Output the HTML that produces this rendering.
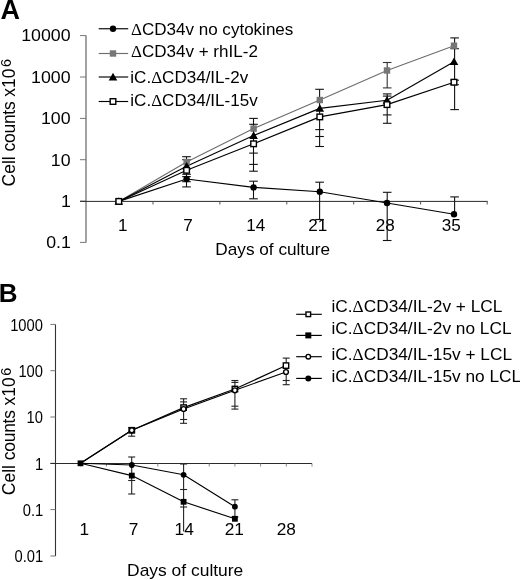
<!DOCTYPE html><html><head><meta charset="utf-8"><style>html,body{margin:0;padding:0;background:#fff;}svg{display:block;will-change:transform;}text{font-family:"Liberation Sans",sans-serif;}</style></head><body>
<svg width="520" height="580" viewBox="0 0 520 580">
<rect width="520" height="580" fill="#fff"/>
<text transform="translate(0.50,18.80) scale(1.0,1)" font-size="27" font-weight="bold" fill="#000">A</text>
<line x1="86.00" y1="35.60" x2="86.00" y2="242.40" stroke="#555" stroke-width="1.1"/>
<line x1="80.00" y1="35.60" x2="86.00" y2="35.60" stroke="#777" stroke-width="1.0"/>
<line x1="80.00" y1="77.00" x2="86.00" y2="77.00" stroke="#777" stroke-width="1.0"/>
<line x1="80.00" y1="118.40" x2="86.00" y2="118.40" stroke="#777" stroke-width="1.0"/>
<line x1="80.00" y1="159.70" x2="86.00" y2="159.70" stroke="#777" stroke-width="1.0"/>
<line x1="80.00" y1="201.10" x2="86.00" y2="201.10" stroke="#777" stroke-width="1.0"/>
<line x1="80.00" y1="242.40" x2="86.00" y2="242.40" stroke="#777" stroke-width="1.0"/>
<text transform="translate(21.18,41.40) scale(1.11,1)" font-size="16" fill="#000">10000</text>
<text transform="translate(31.06,82.80) scale(1.11,1)" font-size="16" fill="#000">1000</text>
<text transform="translate(40.94,124.20) scale(1.11,1)" font-size="16" fill="#000">100</text>
<text transform="translate(50.82,165.50) scale(1.11,1)" font-size="16" fill="#000">10</text>
<text transform="translate(60.92,206.90) scale(1.11,1)" font-size="16" fill="#000">1</text>
<text transform="translate(46.16,248.20) scale(1.11,1)" font-size="16" fill="#000">0.1</text>
<line x1="80.00" y1="201.40" x2="487.70" y2="201.40" stroke="#2a2a2a" stroke-width="1.0"/>
<line x1="153.00" y1="201.40" x2="153.00" y2="204.50" stroke="#555" stroke-width="1.0"/>
<line x1="219.90" y1="201.40" x2="219.90" y2="204.50" stroke="#555" stroke-width="1.0"/>
<line x1="286.80" y1="201.40" x2="286.80" y2="204.50" stroke="#555" stroke-width="1.0"/>
<line x1="353.70" y1="201.40" x2="353.70" y2="204.50" stroke="#555" stroke-width="1.0"/>
<line x1="420.60" y1="201.40" x2="420.60" y2="204.50" stroke="#555" stroke-width="1.0"/>
<line x1="487.20" y1="201.40" x2="487.20" y2="204.50" stroke="#555" stroke-width="1.0"/>
<text transform="translate(117.98,230.60) scale(1.07,1)" font-size="16" fill="#000">1</text>
<text transform="translate(183.29,230.60) scale(1.07,1)" font-size="16" fill="#000">7</text>
<text transform="translate(246.16,230.60) scale(1.07,1)" font-size="16" fill="#000">14</text>
<text transform="translate(308.33,230.60) scale(1.07,1)" font-size="16" fill="#000">21</text>
<text transform="translate(375.68,230.60) scale(1.07,1)" font-size="16" fill="#000">28</text>
<text transform="translate(441.68,230.60) scale(1.07,1)" font-size="16" fill="#000">35</text>
<text transform="translate(215.30,254.80) scale(1.075,1)" font-size="16" fill="#000">Days of culture</text>
<line x1="186.50" y1="156.70" x2="186.50" y2="186.90" stroke="#111" stroke-width="1.1"/>
<line x1="182.20" y1="156.70" x2="190.80" y2="156.70" stroke="#111" stroke-width="1.1"/>
<line x1="182.20" y1="159.70" x2="190.80" y2="159.70" stroke="#111" stroke-width="1.1"/>
<line x1="182.20" y1="174.30" x2="190.80" y2="174.30" stroke="#111" stroke-width="1.1"/>
<line x1="182.20" y1="176.60" x2="190.80" y2="176.60" stroke="#111" stroke-width="1.1"/>
<line x1="182.20" y1="181.70" x2="190.80" y2="181.70" stroke="#111" stroke-width="1.1"/>
<line x1="182.20" y1="186.90" x2="190.80" y2="186.90" stroke="#111" stroke-width="1.1"/>
<line x1="253.50" y1="118.40" x2="253.50" y2="171.20" stroke="#111" stroke-width="1.1"/>
<line x1="253.50" y1="181.20" x2="253.50" y2="198.80" stroke="#111" stroke-width="1.1"/>
<line x1="249.20" y1="118.40" x2="257.80" y2="118.40" stroke="#111" stroke-width="1.1"/>
<line x1="249.20" y1="124.30" x2="257.80" y2="124.30" stroke="#111" stroke-width="1.1"/>
<line x1="249.20" y1="153.10" x2="257.80" y2="153.10" stroke="#111" stroke-width="1.1"/>
<line x1="249.20" y1="164.40" x2="257.80" y2="164.40" stroke="#111" stroke-width="1.1"/>
<line x1="249.20" y1="171.20" x2="257.80" y2="171.20" stroke="#111" stroke-width="1.1"/>
<line x1="249.20" y1="181.20" x2="257.80" y2="181.20" stroke="#111" stroke-width="1.1"/>
<line x1="249.20" y1="198.80" x2="257.80" y2="198.80" stroke="#111" stroke-width="1.1"/>
<line x1="319.60" y1="89.30" x2="319.60" y2="146.50" stroke="#111" stroke-width="1.1"/>
<line x1="319.60" y1="182.20" x2="319.60" y2="219.50" stroke="#111" stroke-width="1.1"/>
<line x1="315.30" y1="89.30" x2="323.90" y2="89.30" stroke="#111" stroke-width="1.1"/>
<line x1="315.30" y1="129.60" x2="323.90" y2="129.60" stroke="#111" stroke-width="1.1"/>
<line x1="315.30" y1="136.50" x2="323.90" y2="136.50" stroke="#111" stroke-width="1.1"/>
<line x1="315.30" y1="146.50" x2="323.90" y2="146.50" stroke="#111" stroke-width="1.1"/>
<line x1="315.30" y1="182.20" x2="323.90" y2="182.20" stroke="#111" stroke-width="1.1"/>
<line x1="315.30" y1="219.50" x2="323.90" y2="219.50" stroke="#111" stroke-width="1.1"/>
<line x1="387.20" y1="62.50" x2="387.20" y2="87.90" stroke="#333" stroke-width="1.1"/>
<line x1="382.90" y1="62.50" x2="391.50" y2="62.50" stroke="#333" stroke-width="1.1"/>
<line x1="382.90" y1="87.90" x2="391.50" y2="87.90" stroke="#333" stroke-width="1.1"/>
<line x1="387.20" y1="93.90" x2="387.20" y2="123.30" stroke="#111" stroke-width="1.1"/>
<line x1="387.20" y1="192.30" x2="387.20" y2="240.50" stroke="#111" stroke-width="1.1"/>
<line x1="382.90" y1="93.90" x2="391.50" y2="93.90" stroke="#111" stroke-width="1.1"/>
<line x1="382.90" y1="96.10" x2="391.50" y2="96.10" stroke="#111" stroke-width="1.1"/>
<line x1="382.90" y1="114.90" x2="391.50" y2="114.90" stroke="#111" stroke-width="1.1"/>
<line x1="382.90" y1="123.30" x2="391.50" y2="123.30" stroke="#111" stroke-width="1.1"/>
<line x1="382.90" y1="192.30" x2="391.50" y2="192.30" stroke="#111" stroke-width="1.1"/>
<line x1="382.90" y1="240.50" x2="391.50" y2="240.50" stroke="#111" stroke-width="1.1"/>
<line x1="454.60" y1="37.90" x2="454.60" y2="109.60" stroke="#111" stroke-width="1.1"/>
<line x1="454.60" y1="196.90" x2="454.60" y2="214.30" stroke="#111" stroke-width="1.1"/>
<line x1="450.30" y1="37.90" x2="458.90" y2="37.90" stroke="#111" stroke-width="1.1"/>
<line x1="450.30" y1="48.70" x2="458.90" y2="48.70" stroke="#111" stroke-width="1.1"/>
<line x1="450.30" y1="80.20" x2="458.90" y2="80.20" stroke="#111" stroke-width="1.1"/>
<line x1="450.30" y1="84.70" x2="458.90" y2="84.70" stroke="#111" stroke-width="1.1"/>
<line x1="450.30" y1="109.60" x2="458.90" y2="109.60" stroke="#111" stroke-width="1.1"/>
<line x1="450.30" y1="196.90" x2="458.90" y2="196.90" stroke="#111" stroke-width="1.1"/>
<polyline points="118.80,201.40 186.60,179.00 253.60,187.40 319.80,191.80 387.00,203.00 454.00,214.30" fill="none" stroke="#000" stroke-width="1.15" stroke-linejoin="round"/>
<polyline points="118.80,201.40 186.60,162.00 253.60,128.60 319.80,100.00 387.00,70.50 454.00,45.70" fill="none" stroke="#6e6e6e" stroke-width="1.15" stroke-linejoin="round"/>
<polyline points="118.80,201.40 186.60,166.20 253.60,135.50 319.80,108.40 387.00,100.30 454.00,61.70" fill="none" stroke="#000" stroke-width="1.15" stroke-linejoin="round"/>
<polyline points="118.80,201.40 186.60,170.30 253.60,143.80 319.80,116.90 387.00,104.60 454.00,82.20" fill="none" stroke="#000" stroke-width="1.15" stroke-linejoin="round"/>
<circle cx="118.80" cy="201.40" r="3.20" fill="#000"/>
<circle cx="186.60" cy="179.00" r="3.20" fill="#000"/>
<circle cx="253.60" cy="187.40" r="3.20" fill="#000"/>
<circle cx="319.80" cy="191.80" r="3.20" fill="#000"/>
<circle cx="387.00" cy="203.00" r="3.20" fill="#000"/>
<circle cx="454.00" cy="214.30" r="3.20" fill="#000"/>
<rect x="115.60" y="198.20" width="6.40" height="6.40" fill="#777"/>
<rect x="183.40" y="158.80" width="6.40" height="6.40" fill="#777"/>
<rect x="250.40" y="125.40" width="6.40" height="6.40" fill="#777"/>
<rect x="316.60" y="96.80" width="6.40" height="6.40" fill="#777"/>
<rect x="383.80" y="67.30" width="6.40" height="6.40" fill="#777"/>
<rect x="450.80" y="42.50" width="6.40" height="6.40" fill="#777"/>
<polygon points="118.80,197.20 123.10,204.80 114.50,204.80" fill="#000"/>
<polygon points="186.60,162.00 190.90,169.60 182.30,169.60" fill="#000"/>
<polygon points="253.60,131.30 257.90,138.90 249.30,138.90" fill="#000"/>
<polygon points="319.80,104.20 324.10,111.80 315.50,111.80" fill="#000"/>
<polygon points="387.00,96.10 391.30,103.70 382.70,103.70" fill="#000"/>
<polygon points="454.00,57.50 458.30,65.10 449.70,65.10" fill="#000"/>
<rect x="116.00" y="198.60" width="5.60" height="5.60" fill="#fff" stroke="#000" stroke-width="1.4"/>
<rect x="183.80" y="167.50" width="5.60" height="5.60" fill="#fff" stroke="#000" stroke-width="1.4"/>
<rect x="250.80" y="141.00" width="5.60" height="5.60" fill="#fff" stroke="#000" stroke-width="1.4"/>
<rect x="317.00" y="114.10" width="5.60" height="5.60" fill="#fff" stroke="#000" stroke-width="1.4"/>
<rect x="384.20" y="101.80" width="5.60" height="5.60" fill="#fff" stroke="#000" stroke-width="1.4"/>
<rect x="451.20" y="79.40" width="5.60" height="5.60" fill="#fff" stroke="#000" stroke-width="1.4"/>
<line x1="98.70" y1="28.75" x2="128.20" y2="28.75" stroke="#000" stroke-width="1.15"/>
<circle cx="113.00" cy="28.75" r="3.20" fill="#000"/>
<text transform="translate(130.97,34.80) scale(1.065,1)" font-size="16" fill="#000"><tspan font-family="Liberation Serif">Δ</tspan>CD34v no cytokines</text>
<line x1="98.70" y1="53.50" x2="128.20" y2="53.50" stroke="#6e6e6e" stroke-width="1.15"/>
<rect x="109.80" y="50.30" width="6.40" height="6.40" fill="#777"/>
<text transform="translate(130.97,57.20) scale(1.065,1)" font-size="16" fill="#000"><tspan font-family="Liberation Serif">Δ</tspan>CD34v + rhIL-2</text>
<line x1="98.70" y1="77.00" x2="128.20" y2="77.00" stroke="#000" stroke-width="1.15"/>
<polygon points="113.00,72.80 117.30,80.40 108.70,80.40" fill="#000"/>
<text transform="translate(130.33,83.10) scale(1.065,1)" font-size="16" fill="#000">iC.<tspan font-family="Liberation Serif">Δ</tspan>CD34/IL-2v</text>
<line x1="98.70" y1="101.50" x2="128.20" y2="101.50" stroke="#000" stroke-width="1.15"/>
<rect x="110.20" y="98.70" width="5.60" height="5.60" fill="#fff" stroke="#000" stroke-width="1.4"/>
<text transform="translate(130.33,105.90) scale(1.065,1)" font-size="16" fill="#000">iC.<tspan font-family="Liberation Serif">Δ</tspan>CD34/IL-15v</text>
<text transform="translate(-1.30,302.30) scale(1.0,1)" font-size="26" font-weight="bold" fill="#000">B</text>
<line x1="55.50" y1="324.40" x2="55.50" y2="556.00" stroke="#333" stroke-width="1.1"/>
<line x1="50.40" y1="324.40" x2="55.50" y2="324.40" stroke="#777" stroke-width="1.0"/>
<line x1="50.40" y1="370.70" x2="55.50" y2="370.70" stroke="#777" stroke-width="1.0"/>
<line x1="50.40" y1="417.00" x2="55.50" y2="417.00" stroke="#777" stroke-width="1.0"/>
<line x1="50.40" y1="463.30" x2="55.50" y2="463.30" stroke="#777" stroke-width="1.0"/>
<line x1="50.40" y1="509.60" x2="55.50" y2="509.60" stroke="#777" stroke-width="1.0"/>
<line x1="50.40" y1="556.00" x2="55.50" y2="556.00" stroke="#777" stroke-width="1.0"/>
<text transform="translate(10.19,330.60) scale(0.92,1)" font-size="16" fill="#000">1000</text>
<text transform="translate(18.38,376.90) scale(0.92,1)" font-size="16" fill="#000">100</text>
<text transform="translate(26.57,423.20) scale(0.92,1)" font-size="16" fill="#000">10</text>
<text transform="translate(34.94,469.50) scale(0.92,1)" font-size="16" fill="#000">1</text>
<text transform="translate(22.70,515.80) scale(0.92,1)" font-size="16" fill="#000">0.1</text>
<text transform="translate(14.52,562.20) scale(0.92,1)" font-size="16" fill="#000">0.01</text>
<line x1="50.40" y1="463.50" x2="312.00" y2="463.50" stroke="#2a2a2a" stroke-width="1.0"/>
<line x1="80.70" y1="463.50" x2="80.70" y2="466.50" stroke="#888" stroke-width="1.0"/>
<line x1="106.40" y1="463.50" x2="106.40" y2="466.50" stroke="#888" stroke-width="1.0"/>
<line x1="132.10" y1="463.50" x2="132.10" y2="466.50" stroke="#888" stroke-width="1.0"/>
<line x1="157.80" y1="463.50" x2="157.80" y2="466.50" stroke="#888" stroke-width="1.0"/>
<line x1="183.50" y1="463.50" x2="183.50" y2="466.50" stroke="#888" stroke-width="1.0"/>
<line x1="209.20" y1="463.50" x2="209.20" y2="466.50" stroke="#888" stroke-width="1.0"/>
<line x1="234.90" y1="463.50" x2="234.90" y2="466.50" stroke="#888" stroke-width="1.0"/>
<line x1="260.60" y1="463.50" x2="260.60" y2="466.50" stroke="#888" stroke-width="1.0"/>
<line x1="286.30" y1="463.50" x2="286.30" y2="466.50" stroke="#888" stroke-width="1.0"/>
<line x1="312.00" y1="463.50" x2="312.00" y2="466.50" stroke="#888" stroke-width="1.0"/>
<text transform="translate(79.43,535.30) scale(1.08,1)" font-size="16" fill="#000">1</text>
<text transform="translate(128.65,535.30) scale(1.08,1)" font-size="16" fill="#000">7</text>
<text transform="translate(174.56,535.30) scale(1.08,1)" font-size="16" fill="#000">14</text>
<text transform="translate(224.74,535.30) scale(1.08,1)" font-size="16" fill="#000">21</text>
<text transform="translate(276.69,535.30) scale(1.08,1)" font-size="16" fill="#000">28</text>
<text transform="translate(127.08,576.00) scale(1.09,1)" font-size="16" fill="#000">Days of culture</text>
<line x1="131.70" y1="427.60" x2="131.70" y2="436.20" stroke="#222" stroke-width="1.1"/>
<line x1="131.70" y1="457.00" x2="131.70" y2="494.00" stroke="#222" stroke-width="1.1"/>
<line x1="128.20" y1="427.60" x2="135.20" y2="427.60" stroke="#222" stroke-width="1.1"/>
<line x1="128.20" y1="436.20" x2="135.20" y2="436.20" stroke="#222" stroke-width="1.1"/>
<line x1="128.20" y1="457.00" x2="135.20" y2="457.00" stroke="#222" stroke-width="1.1"/>
<line x1="128.20" y1="480.50" x2="135.20" y2="480.50" stroke="#222" stroke-width="1.1"/>
<line x1="128.20" y1="494.00" x2="135.20" y2="494.00" stroke="#222" stroke-width="1.1"/>
<line x1="183.60" y1="398.80" x2="183.60" y2="423.30" stroke="#222" stroke-width="1.1"/>
<line x1="183.60" y1="464.00" x2="183.60" y2="531.50" stroke="#222" stroke-width="1.1"/>
<line x1="180.10" y1="398.80" x2="187.10" y2="398.80" stroke="#222" stroke-width="1.1"/>
<line x1="180.10" y1="401.90" x2="187.10" y2="401.90" stroke="#222" stroke-width="1.1"/>
<line x1="180.10" y1="419.50" x2="187.10" y2="419.50" stroke="#222" stroke-width="1.1"/>
<line x1="180.10" y1="423.30" x2="187.10" y2="423.30" stroke="#222" stroke-width="1.1"/>
<line x1="180.10" y1="464.00" x2="187.10" y2="464.00" stroke="#222" stroke-width="1.1"/>
<line x1="180.10" y1="489.50" x2="187.10" y2="489.50" stroke="#222" stroke-width="1.1"/>
<line x1="180.10" y1="507.00" x2="187.10" y2="507.00" stroke="#222" stroke-width="1.1"/>
<line x1="234.90" y1="380.50" x2="234.90" y2="409.10" stroke="#222" stroke-width="1.1"/>
<line x1="234.90" y1="499.80" x2="234.90" y2="518.80" stroke="#222" stroke-width="1.1"/>
<line x1="231.40" y1="380.50" x2="238.40" y2="380.50" stroke="#222" stroke-width="1.1"/>
<line x1="231.40" y1="382.40" x2="238.40" y2="382.40" stroke="#222" stroke-width="1.1"/>
<line x1="231.40" y1="406.20" x2="238.40" y2="406.20" stroke="#222" stroke-width="1.1"/>
<line x1="231.40" y1="409.10" x2="238.40" y2="409.10" stroke="#222" stroke-width="1.1"/>
<line x1="231.40" y1="499.80" x2="238.40" y2="499.80" stroke="#222" stroke-width="1.1"/>
<line x1="231.40" y1="517.00" x2="238.40" y2="517.00" stroke="#222" stroke-width="1.1"/>
<line x1="286.20" y1="358.10" x2="286.20" y2="384.70" stroke="#222" stroke-width="1.1"/>
<line x1="282.70" y1="358.10" x2="289.70" y2="358.10" stroke="#222" stroke-width="1.1"/>
<line x1="282.70" y1="380.50" x2="289.70" y2="380.50" stroke="#222" stroke-width="1.1"/>
<line x1="282.70" y1="384.70" x2="289.70" y2="384.70" stroke="#222" stroke-width="1.1"/>
<polyline points="80.50,463.30 131.80,430.30 183.60,407.60 234.90,389.00 286.00,365.60" fill="none" stroke="#000" stroke-width="1.15" stroke-linejoin="round"/>
<polyline points="80.50,463.30 131.80,430.30 183.60,409.00 234.90,390.30 286.00,372.00" fill="none" stroke="#000" stroke-width="1.15" stroke-linejoin="round"/>
<polyline points="80.50,463.30 131.80,475.60 183.60,501.80 234.90,518.80" fill="none" stroke="#000" stroke-width="1.15" stroke-linejoin="round"/>
<polyline points="80.50,463.30 131.80,465.00 183.60,474.80 234.90,506.70" fill="none" stroke="#000" stroke-width="1.15" stroke-linejoin="round"/>
<rect x="129.10" y="427.60" width="5.40" height="5.40" fill="#fff" stroke="#000" stroke-width="1.4"/>
<rect x="180.90" y="404.90" width="5.40" height="5.40" fill="#fff" stroke="#000" stroke-width="1.4"/>
<rect x="232.20" y="386.30" width="5.40" height="5.40" fill="#fff" stroke="#000" stroke-width="1.4"/>
<rect x="283.30" y="362.90" width="5.40" height="5.40" fill="#fff" stroke="#000" stroke-width="1.4"/>
<circle cx="131.80" cy="430.30" r="2.40" fill="#fff" stroke="#000" stroke-width="1.4"/>
<circle cx="183.60" cy="409.00" r="2.40" fill="#fff" stroke="#000" stroke-width="1.4"/>
<circle cx="234.90" cy="390.30" r="2.40" fill="#fff" stroke="#000" stroke-width="1.4"/>
<circle cx="286.00" cy="372.00" r="2.40" fill="#fff" stroke="#000" stroke-width="1.4"/>
<circle cx="131.80" cy="465.00" r="2.90" fill="#000"/>
<circle cx="183.60" cy="474.80" r="2.90" fill="#000"/>
<circle cx="234.90" cy="506.70" r="2.90" fill="#000"/>
<rect x="77.60" y="460.40" width="5.80" height="5.80" fill="#000"/>
<rect x="128.90" y="472.70" width="5.80" height="5.80" fill="#000"/>
<rect x="180.70" y="498.90" width="5.80" height="5.80" fill="#000"/>
<rect x="232.00" y="515.90" width="5.80" height="5.80" fill="#000"/>
<line x1="296.20" y1="314.30" x2="321.80" y2="314.30" stroke="#000" stroke-width="1.15"/>
<rect x="306.00" y="312.00" width="4.60" height="4.60" fill="#fff" stroke="#000" stroke-width="1.4"/>
<text transform="translate(331.51,312.00) scale(1.08,1)" font-size="16" fill="#000">iC.<tspan font-family="Liberation Serif">Δ</tspan>CD34/IL-2v + LCL</text>
<line x1="296.20" y1="335.40" x2="321.80" y2="335.40" stroke="#000" stroke-width="1.15"/>
<rect x="305.30" y="332.40" width="6.00" height="6.00" fill="#000"/>
<text transform="translate(331.51,334.00) scale(1.08,1)" font-size="16" fill="#000">iC.<tspan font-family="Liberation Serif">Δ</tspan>CD34/IL-2v no LCL</text>
<line x1="296.20" y1="356.70" x2="321.80" y2="356.70" stroke="#000" stroke-width="1.15"/>
<circle cx="308.30" cy="356.70" r="2.30" fill="#fff" stroke="#000" stroke-width="1.4"/>
<text transform="translate(331.51,359.70) scale(1.08,1)" font-size="16" fill="#000">iC.<tspan font-family="Liberation Serif">Δ</tspan>CD34/IL-15v + LCL</text>
<line x1="296.20" y1="378.40" x2="321.80" y2="378.40" stroke="#000" stroke-width="1.15"/>
<circle cx="308.30" cy="378.40" r="3.00" fill="#000"/>
<text transform="translate(331.51,382.20) scale(1.08,1)" font-size="16" fill="#000">iC.<tspan font-family="Liberation Serif">Δ</tspan>CD34/IL-15v no LCL</text>
<text transform="translate(15.00,186.40) rotate(-90)" font-size="17.5" fill="#000">Cell <tspan letter-spacing="-0.3">counts</tspan> x10<tspan font-size="14.5" dx="1.5" dy="-4.3">6</tspan></text>
<text transform="translate(15.40,495.20) rotate(-90)" font-size="17.5" fill="#000">Cell <tspan letter-spacing="-0.3">counts</tspan> x10<tspan font-size="14.5" dx="1.5" dy="-4.3">6</tspan></text>
</svg></body></html>
